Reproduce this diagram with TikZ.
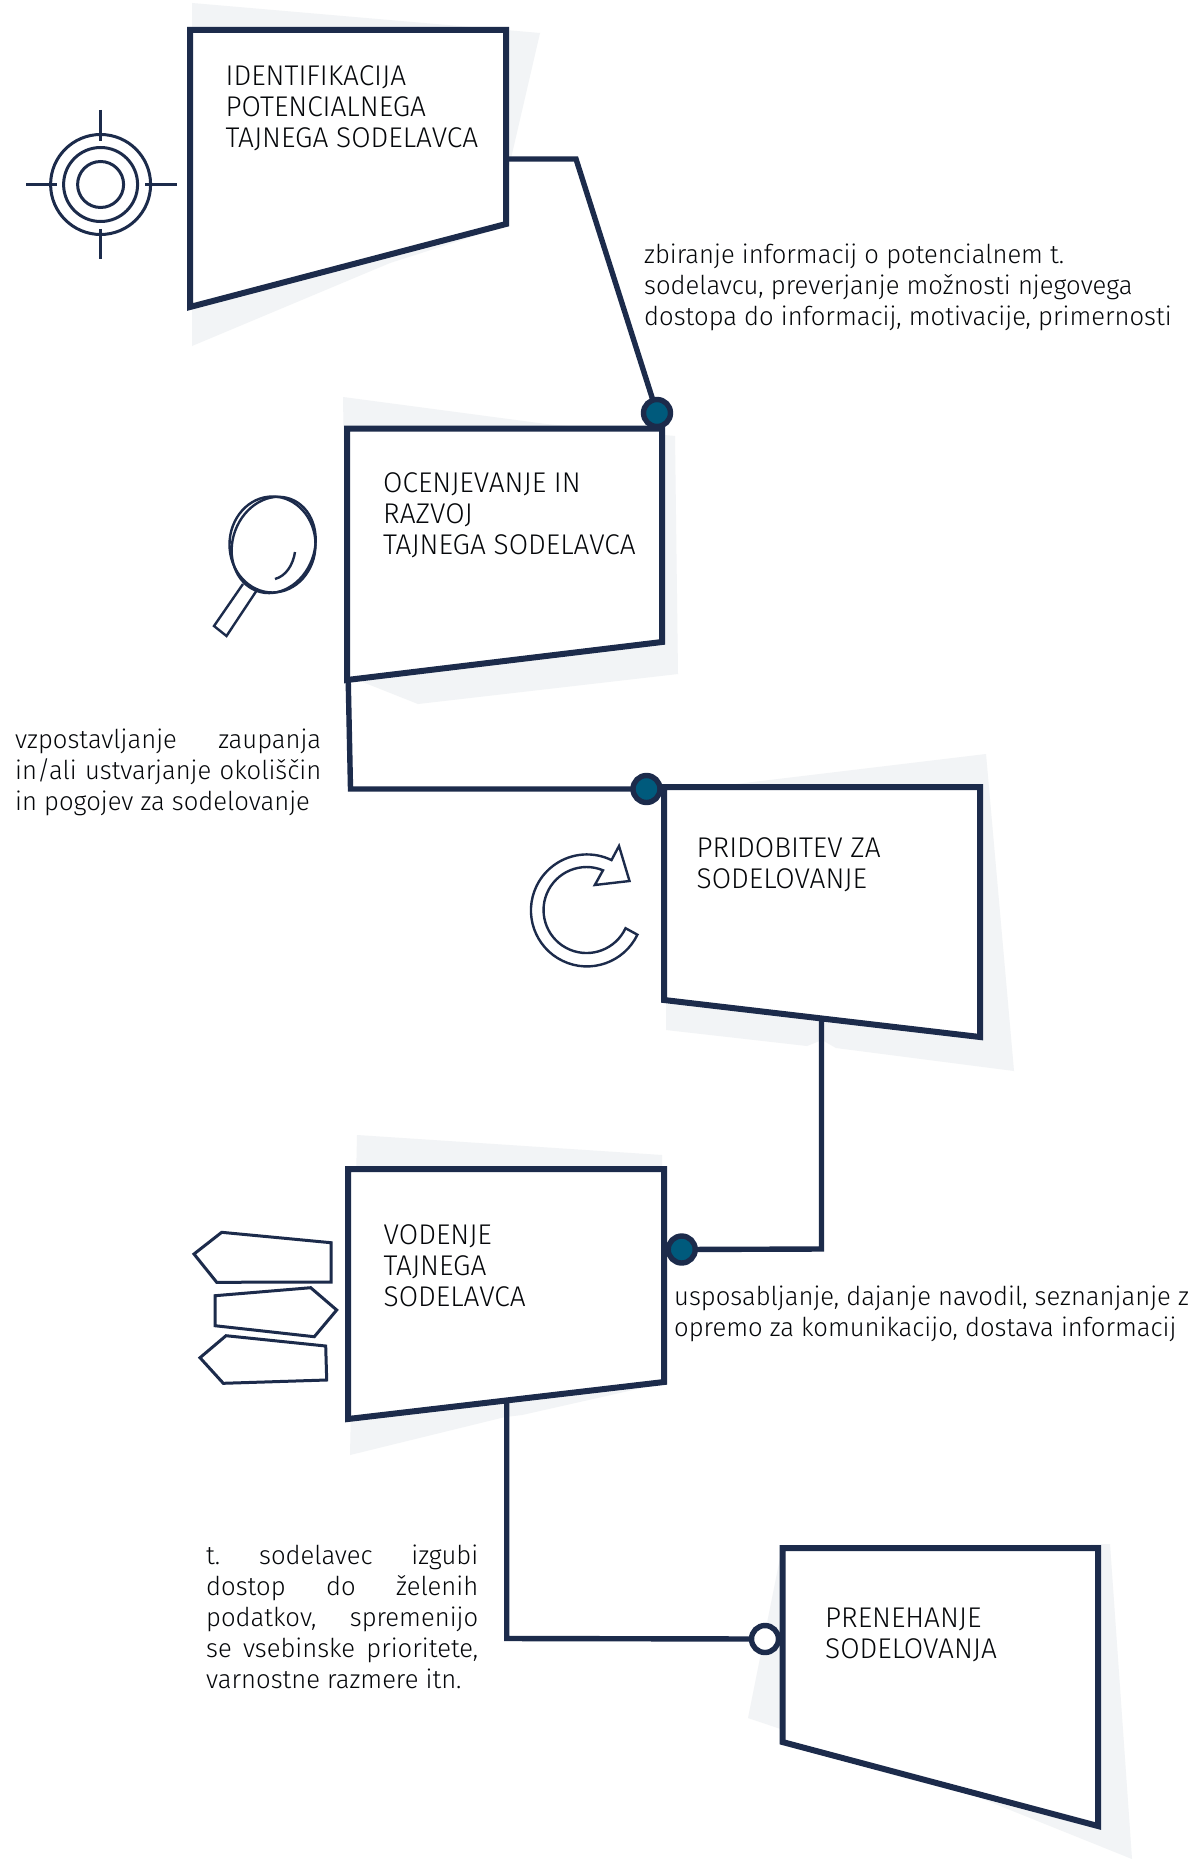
\documentclass[tikz,border=0pt]{standalone}
\usepackage{fontspec}
\setmainfont{Fira Sans}[UprightFont=* Light,FakeStretch=0.985]
\definecolor{navy}{HTML}{1C2B4B}
\definecolor{teal}{HTML}{005A7C}
\definecolor{shade}{HTML}{F2F4F6}
\definecolor{ink}{HTML}{05070A}
\tikzset{
  boxline/.style={draw=navy,line width=6pt,fill=white,line join=miter},
  conn/.style={draw=navy,line width=5.4pt,line join=miter},
  shadow/.style={fill=shade,draw=none},
  icon/.style={draw=navy,line width=3pt},
  thinicon/.style={draw=navy,line width=2.4pt},
  dot/.style={circle,draw=navy,line width=5.4pt,fill=teal,minimum size=27pt,inner sep=0pt},
  opendot/.style={circle,draw=navy,line width=5.4pt,fill=white,minimum size=27pt,inner sep=0pt},
  head/.style={anchor=base west,inner sep=0pt,align=left,text=ink,font=\fontsize{28.5}{31}\selectfont},
  body/.style={anchor=base west,inner sep=0pt,align=left,text=ink,font=\fontsize{26}{31}\selectfont},
}
\newcommand{\jl}[2]{\makebox[#1pt][s]{#2}}
\begin{document}
\begin{tikzpicture}[x=1pt,y=-1pt]
\useasboundingbox (0,0) rectangle (1197,1859);
\fill[white] (0,0) rectangle (1197,1859);
% shadows
\fill[shadow] (192,3) -- (540,33) -- (509,167) -- (509,225) -- (390,263) -- (192,346) -- cycle;
\fill[shadow] (343,397) -- (546,424) -- (675,436) -- (678,674) -- (418,704) -- (360,681) -- (347,640) -- cycle;
\fill[shadow] (728,785) -- (986,754) -- (1014,1071) -- (836,1048) -- (822,1040) -- (807,1046) -- (666,1030) -- (666,990) -- cycle;
\fill[shadow] (357,1135) -- (662,1155) -- (664,1383) -- (522,1415) -- (505,1417) -- (350,1455) -- cycle;
\fill[shadow] (782,1548) -- (1110,1544) -- (1132,1859) -- (953,1787) -- (748,1718) -- cycle;
% dots (nodes first so connectors can reach them)
\node[dot,draw opacity=0,fill opacity=0] (d2) at (657,413) {};
\node[dot,draw opacity=0,fill opacity=0] (d3) at (646.5,789) {};
\node[dot,draw opacity=0,fill opacity=0] (d4) at (681.7,1249.5) {};
\node[opendot,draw opacity=0,fill opacity=0] (d5) at (765,1639) {};
\coordinate (o1) at (500,159);
\coordinate (k1) at (576,159);
\coordinate (o2) at (348,670);
\coordinate (k2) at (350.5,789);
\coordinate (o3) at (821.5,1015);
\coordinate (k3) at (821.5,1249);
\coordinate (o4) at (506.7,1395);
\coordinate (k4) at (506.7,1638.5);
% connectors
\draw[conn] (o1) -- (k1) -- (d2.center);
\draw[conn] (o2) -- (k2) -- (d3.center);
\draw[conn] (o3) -- (k3) -- (d4.center);
\draw[conn] (o4) -- (k4) -- (d5.center);
% boxes
\draw[boxline] (190,30) -- (506,30) -- (506,224) -- (190,307) -- cycle;
\draw[boxline] (347,428.5) -- (662,428.5) -- (662,642) -- (347,680) -- cycle;
\draw[boxline] (664,787) -- (980,787) -- (980,1037) -- (664,1000) -- cycle;
\draw[boxline] (348,1169) -- (664,1169) -- (664,1382) -- (348,1419) -- cycle;
\draw[boxline] (782.5,1548) -- (1098,1548) -- (1098,1826) -- (782.5,1742) -- cycle;
% visible dots
\node[dot] at (d2.center) {};
\node[dot] at (d3.center) {};
\node[dot] at (d4.center) {};
\node[opendot] at (d5.center) {};
% target icon
\draw[icon] (100.6,184.5) circle[radius=50pt];
\draw[icon] (100.6,184.5) circle[radius=37pt];
\draw[icon] (100.6,184.5) circle[radius=23pt];
\draw[icon] (100.6,110) -- (100.6,141);
\draw[icon] (100.6,229) -- (100.6,259);
\draw[icon] (26,184.5) -- (57,184.5);
\draw[icon] (145,184.5) -- (177,184.5);
% magnifier
\draw[thinicon] (272.5,544.5) circle[x radius=43pt,y radius=48pt];
\draw[thinicon,rotate around={-20:(274,544)}] (274,545) circle[x radius=41pt,y radius=49pt];
\draw[thinicon,line join=miter] (243,584) -- (214,626) -- (226.5,636) -- (257,590);
\draw[thinicon] (295,552) .. controls (293,565) and (286,576) .. (275,579);
% refresh icon
\draw[thinicon,line join=miter] (637.4,934.7) arc[start angle=-25.7,end angle=-296,radius=56pt]
  -- (619,846) -- (629.5,881) -- (594.8,885) -- (603,870.3)
  arc[start angle=67.5,end angle=335,radius=43pt] -- cycle;
% signposts
\draw[icon,line join=miter] (221.7,1232.3) -- (331,1242.7) -- (331,1282) -- (216.7,1282.3) -- (194,1254) -- cycle;
\draw[icon,line join=miter] (215,1295.7) -- (310.7,1287.7) -- (336.7,1310) -- (314.3,1336.7) -- (215,1325.7) -- cycle;
\draw[icon,line join=miter] (226,1335.7) -- (325.7,1346) -- (326.7,1380) -- (223.3,1383.3) -- (200,1357.7) -- cycle;
% box labels
\node[head] (t1) at (225.5,148) {IDENTIFIKACIJA\\POTENCIALNEGA\\TAJNEGA SODELAVCA};
\node[head] (t2) at (383,554) {OCENJEVANJE IN\\RAZVOJ\\TAJNEGA SODELAVCA};
\node[head] (t3) at (696.5,888) {PRIDOBITEV ZA\\SODELOVANJE};
\node[head] (t4) at (383.5,1306) {VODENJE\\TAJNEGA\\SODELAVCA};
\node[head] (t5) at (825,1658) {PRENEHANJE\\SODELOVANJA};
% descriptions
\node[body] (a) at (644,325) {zbiranje informacij o potencialnem t.\\sodelavcu, preverjanje možnosti njegovega\\dostopa do informacij, motivacije, primernosti};
\node[body] (b) at (15,810) {\jl{306}{vzpostavljanje\hfill zaupanja}\\\jl{306}{in/ali\hfill ustvarjanje\hfill okoliščin}\\in pogojev za sodelovanje};
\node[body] (c) at (674,1336) {usposabljanje, dajanje navodil, seznanjanje z\\opremo za komunikacijo, dostava informacij};
\node[body] (e) at (206,1688) {\jl{272}{t.\hfill sodelavec\hfill izgubi}\\\jl{272}{dostop\hfill do\hfill želenih}\\\jl{272}{podatkov,\hfill spremenijo}\\\jl{272}{se\hfill vsebinske\hfill prioritete,}\\varnostne razmere itn.};
\end{tikzpicture}
\end{document}
